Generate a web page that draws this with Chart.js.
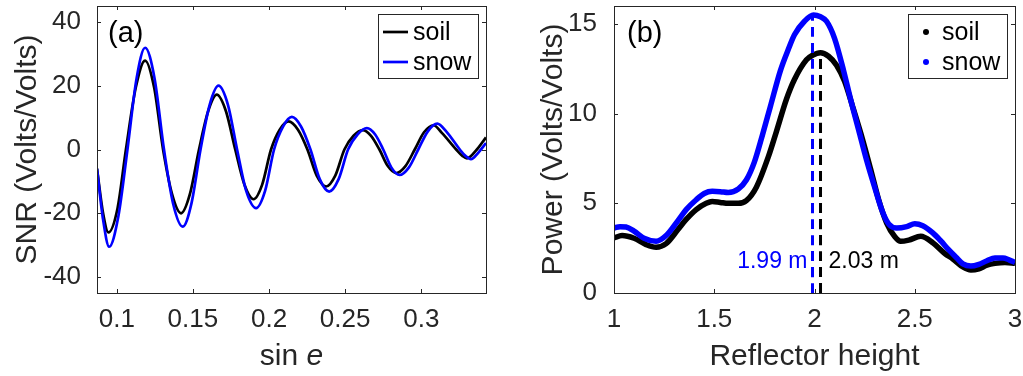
<!DOCTYPE html>
<html lang="en">
<head>
<meta charset="UTF-8">
<title>SNR and reflector height</title>
<script src="https://cdn.jsdelivr.net/npm/chart.js"></script>
<style>
  body { margin: 0; background: #fff; }
  .panel { position: absolute; top: 0; }
  #panelA { left: 0; }
  #panelB { left: 512px; }
</style>
</head>
<body>
<div class="panel" id="panelA"><canvas id="snrChart" width="512" height="376"></canvas></div>
<div class="panel" id="panelB"><canvas id="powerChart" width="511" height="376"></canvas></div>

<script>
// (a) SNR vs sin e
const soilSinE = [0.087, 0.091, 0.0945, 0.1005, 0.106, 0.1125, 0.1186, 0.1245, 0.1304, 0.1363, 0.1422, 0.148, 0.154, 0.160, 0.1657, 0.1717, 0.1778, 0.1838, 0.1898, 0.1955, 0.2013, 0.207, 0.2128, 0.219, 0.2252, 0.2313, 0.2375, 0.2435, 0.2495, 0.2555, 0.2615, 0.267, 0.2725, 0.278, 0.2835, 0.2896, 0.2957, 0.3018, 0.308, 0.3135, 0.3229, 0.327, 0.330, 0.3365, 0.3425];
const soilSNR  = [-6, -20, -26, -18.4, 0, 19.5, 27.9, 19.5, 0, -14, -20, -14, 0, 12, 17.2, 12, 0, -11, -15.6, -11, 0, 6.2, 8.8, 6.2, 0, -8.2, -11.6, -8.2, 0, 4.3, 6.1, 4.3, 0, -5.2, -7.4, -5.2, 0, 5.4, 7.6, 5.2, 0, -2, -2.8, 0, 3.8];
const snowSinE = [0.087, 0.091, 0.095, 0.101, 0.107, 0.113, 0.1186, 0.1248, 0.131, 0.137, 0.1433, 0.149, 0.155, 0.161, 0.1668, 0.173, 0.179, 0.185, 0.1915, 0.1974, 0.2033, 0.2092, 0.215, 0.221, 0.2272, 0.2333, 0.2395, 0.2457, 0.2519, 0.2581, 0.2643, 0.2697, 0.275, 0.2803, 0.2857, 0.2919, 0.298, 0.3043, 0.3105, 0.3165, 0.3253, 0.329, 0.3326, 0.3378, 0.3425];
const snowSNR  = [-6, -22, -30.5, -21, 0, 22.3, 31.9, 22.3, 0, -17, -24.2, -17, 0, 14, 20, 14, 0, -13, -18.4, -13, 0, 7.2, 10.2, 7.2, 0, -9.3, -13.2, -9.3, 0, 4.7, 6.7, 4.7, 0, -5.6, -8.0, -5.6, 0, 5.7, 8.1, 5.6, 0, -2, -3.0, -0.8, 2.0];
const sinETicks = [0.1, 0.15, 0.2, 0.25, 0.3];
const snrTicks = [-40, -20, 0, 20, 40];

// (b) periodogram power vs reflector height
const soilHeight = [1.00, 1.04, 1.10, 1.16, 1.21, 1.26, 1.32, 1.36, 1.41, 1.46, 1.49, 1.53, 1.57, 1.62, 1.66, 1.71, 1.77, 1.81, 1.86, 1.90, 1.96, 1.99, 2.03, 2.07, 2.11, 2.15, 2.19, 2.24, 2.28, 2.32, 2.36, 2.40, 2.43, 2.47, 2.53, 2.59, 2.65, 2.69, 2.74, 2.78, 2.82, 2.86, 2.90, 2.95, 3.00];
const soilPower  = [3.07, 3.2, 3.05, 2.7, 2.55, 2.75, 3.55, 4.1, 4.65, 5.0, 5.1, 5.05, 5.0, 5.0, 5.15, 5.9, 7.6, 9.0, 10.8, 11.9, 13.0, 13.25, 13.4, 13.2, 12.7, 11.8, 10.4, 8.55, 6.9, 5.2, 3.9, 3.15, 2.88, 2.95, 3.16, 2.8, 2.2, 1.9, 1.45, 1.28, 1.35, 1.55, 1.65, 1.7, 1.66];
const snowHeight = [1.00, 1.03, 1.06, 1.10, 1.15, 1.21, 1.26, 1.32, 1.36, 1.41, 1.45, 1.49, 1.53, 1.57, 1.62, 1.66, 1.70, 1.74, 1.78, 1.83, 1.87, 1.90, 1.95, 1.995, 2.03, 2.06, 2.10, 2.145, 2.18, 2.22, 2.26, 2.30, 2.34, 2.37, 2.41, 2.46, 2.50, 2.54, 2.59, 2.63, 2.67, 2.71, 2.74, 2.78, 2.82, 2.86, 2.90, 2.94, 2.97, 3.00];
const snowPower  = [3.62, 3.7, 3.68, 3.45, 3.05, 2.88, 3.2, 4.05, 4.65, 5.2, 5.55, 5.67, 5.65, 5.6, 5.8, 6.3, 7.3, 8.8, 10.4, 12.4, 13.6, 14.4, 15.15, 15.5, 15.4, 15.15, 14.2, 12.4, 10.8, 9.1, 7.4, 5.9, 4.5, 3.85, 3.62, 3.7, 3.86, 3.75, 3.35, 2.9, 2.4, 1.95, 1.62, 1.5, 1.6, 1.8, 1.95, 1.95, 1.85, 1.7];
const heightTicks = [1, 1.5, 2, 2.5, 3];
const powerTicks = [0, 5, 10, 15];
// peak heights [snow, soil] and the power at each peak
const peakHeights = [1.99, 2.03];
const peakPowers = [15.45, 13.38];

const BLUE = '#0000ff';
const BLACK = '#000000';
const AXIS = '#262626';
const FONT = '"Liberation Sans", Arial, Helvetica, sans-serif';

const pts = (xs, ys) => xs.map((x, i) => ({x: x, y: ys[i]}));

// matlab-ish axes: box, inward ticks on all sides, legend inside, panel letter, notes
const frame = {
  id: 'frame',
  afterDraw(chart, args, o) {
    const {ctx, chartArea: a, scales: {x, y}} = chart;
    const tl = 4;
    ctx.save();
    ctx.strokeStyle = AXIS;
    ctx.lineWidth = 1;
    ctx.beginPath();
    x.ticks.forEach(t => {
      const px = Math.round(x.getPixelForValue(t.value)) + 0.5;
      ctx.moveTo(px, a.bottom); ctx.lineTo(px, a.bottom - tl);
      ctx.moveTo(px, a.top); ctx.lineTo(px, a.top + tl);
    });
    y.ticks.forEach(t => {
      const py = Math.round(y.getPixelForValue(t.value)) + 0.5;
      ctx.moveTo(a.left, py); ctx.lineTo(a.left + tl, py);
      ctx.moveTo(a.right, py); ctx.lineTo(a.right - tl, py);
    });
    ctx.stroke();
    ctx.strokeRect(Math.round(a.left) + 0.5, Math.round(a.top) + 0.5, Math.round(a.width), Math.round(a.height));

    // panel letter
    ctx.fillStyle = BLACK;
    ctx.font = '29px ' + FONT;
    ctx.textBaseline = 'alphabetic';
    ctx.textAlign = 'left';
    ctx.fillText(o.label, a.left + o.labelDx, 42);

    // legend box
    const lg = o.legend;
    ctx.fillStyle = '#fff';
    ctx.fillRect(lg.x, lg.y, lg.w, lg.h);
    ctx.strokeStyle = AXIS;
    ctx.strokeRect(lg.x + 0.5, lg.y + 0.5, lg.w, lg.h);
    ctx.font = '25px ' + FONT;
    const items = chart.data.datasets.filter(d => d.inLegend);
    items.sort((p, q) => p.legendRank - q.legendRank);
    items.forEach((d, i) => {
      const cy = lg.y + 18 + i * 30;
      ctx.strokeStyle = d.borderColor;
      ctx.fillStyle = d.borderColor;
      if (lg.marker === 'line') {
        ctx.lineWidth = 2.7;
        ctx.beginPath();
        ctx.moveTo(lg.x + 5, cy); ctx.lineTo(lg.x + 30, cy);
        ctx.stroke();
      } else {
        ctx.beginPath();
        ctx.arc(lg.x + 18, cy, 3, 0, Math.PI * 2);
        ctx.fill();
      }
      ctx.fillStyle = BLACK;
      ctx.fillText(d.label, lg.x + lg.textDx, cy + 8);
    });

    // notes next to the dashed peak lines
    (o.notes || []).forEach(n => {
      ctx.font = '23px ' + FONT;
      ctx.fillStyle = n.color;
      ctx.textAlign = n.align;
      ctx.fillText(n.text, x.getPixelForValue(n.x) + n.dx, 268);
    });

    // x title with an italic part
    if (o.xTitle) {
      ctx.fillStyle = AXIS;
      ctx.textAlign = 'left';
      ctx.textBaseline = 'middle';
      const normal = '30px ' + FONT, italic = 'italic 30px ' + FONT;
      ctx.font = normal;
      const w1 = ctx.measureText(o.xTitle[0]).width;
      ctx.font = italic;
      const w2 = ctx.measureText(o.xTitle[1]).width;
      const sx = (a.left + a.right) / 2 - (w1 + w2) / 2;
      ctx.font = normal;
      ctx.fillText(o.xTitle[0], sx, 357);
      ctx.font = italic;
      ctx.fillText(o.xTitle[1], sx + w1, 357);
    }
    ctx.restore();
  }
};

function axes(xMin, xMax, xTicks, yMin, yMax, yTicks, yTitle, xTitle, yTitlePad, yTickPad, yWidth) {
  return {
    x: {
      type: 'linear', min: xMin, max: xMax,
      afterBuildTicks: s => { s.ticks = xTicks.map(v => ({value: v})); },
      afterFit: s => { s.height = 83; s.paddingLeft = 0; s.paddingRight = 0; },
      grid: {display: false}, border: {display: false},
      ticks: {color: AXIS, font: {family: FONT, size: 26}, padding: 3, maxRotation: 0, autoSkip: false, callback: v => String(v)},
      title: xTitle ? {display: true, text: xTitle, color: AXIS, font: {family: FONT, size: 30}, padding: {top: 0, bottom: 1}} : {display: false}
    },
    y: {
      type: 'linear', min: yMin, max: yMax,
      afterBuildTicks: s => { s.ticks = yTicks.map(v => ({value: v})); },
      afterFit: s => { s.width = yWidth; s.paddingTop = 0; s.paddingBottom = 0; },
      grid: {display: false}, border: {display: false},
      ticks: {color: AXIS, font: {family: FONT, size: 26}, padding: yTickPad, autoSkip: false, callback: v => String(v)},
      title: {display: true, text: yTitle, color: AXIS, font: {family: FONT, size: 30}, padding: {top: yTitlePad, bottom: 0}}
    }
  };
}

new Chart(document.getElementById('snrChart'), {
  type: 'line',
  data: {
    datasets: [
      {label: 'soil', data: pts(soilSinE, soilSNR), borderColor: BLACK, borderWidth: 2.7, order: 2, inLegend: true, legendRank: 0},
      {label: 'snow', data: pts(snowSinE, snowSNR), borderColor: BLUE, borderWidth: 2.7, order: 1, inLegend: true, legendRank: 1}
    ]
  },
  options: {
    responsive: false,
    animation: false,
    parsing: false,
    elements: {point: {radius: 0}, line: {cubicInterpolationMode: 'monotone'}},
    layout: {padding: {left: 0, right: 26, top: 6, bottom: 0}},
    scales: axes(0.087, 0.3425, sinETicks, -45, 45, snrTicks, 'SNR (Volts/Volts)', null, 10, 8, 97),
    plugins: {
      legend: {display: false},
      tooltip: {enabled: false},
      frame: {
        label: '(a)', labelDx: 11,
        legend: {x: 378, y: 14, w: 100, h: 64, marker: 'line', textDx: 35},
        xTitle: ['sin ', 'e']
      }
    }
  },
  plugins: [frame]
});

new Chart(document.getElementById('powerChart'), {
  type: 'line',
  data: {
    datasets: [
      {label: 'soil', data: pts(soilHeight, soilPower), borderColor: BLACK, borderWidth: 5.5, order: 3, inLegend: true, legendRank: 0},
      {label: 'snow', data: pts(snowHeight, snowPower), borderColor: BLUE, borderWidth: 5.5, order: 2, inLegend: true, legendRank: 1},
      {label: 'snow peak', data: [{x: peakHeights[0], y: 0}, {x: peakHeights[0], y: peakPowers[0]}], borderColor: BLUE, borderWidth: 3, borderDash: [10, 6], order: 1},
      {label: 'soil peak', data: [{x: peakHeights[1], y: 0}, {x: peakHeights[1], y: peakPowers[1]}], borderColor: BLACK, borderWidth: 3, borderDash: [10, 6], order: 0}
    ]
  },
  options: {
    responsive: false,
    animation: false,
    parsing: false,
    elements: {point: {radius: 0}, line: {cubicInterpolationMode: 'monotone'}},
    layout: {padding: {left: 0, right: 8, top: 6, bottom: 0}},
    scales: axes(1, 3, heightTicks, 0, 16, powerTicks, 'Power (Volts/Volts)', 'Reflector height', 24, 9, 102),
    plugins: {
      legend: {display: false},
      tooltip: {enabled: false},
      frame: {
        label: '(b)', labelDx: 13,
        legend: {x: 396, y: 14, w: 99, h: 64, marker: 'dot', textDx: 34},
        notes: [
          {x: peakHeights[0], text: peakHeights[0].toFixed(2) + ' m', color: BLUE, align: 'right', dx: -5},
          {x: peakHeights[1], text: peakHeights[1].toFixed(2) + ' m', color: BLACK, align: 'left', dx: 8}
        ]
      }
    }
  },
  plugins: [frame]
});
</script>
</body>
</html>
